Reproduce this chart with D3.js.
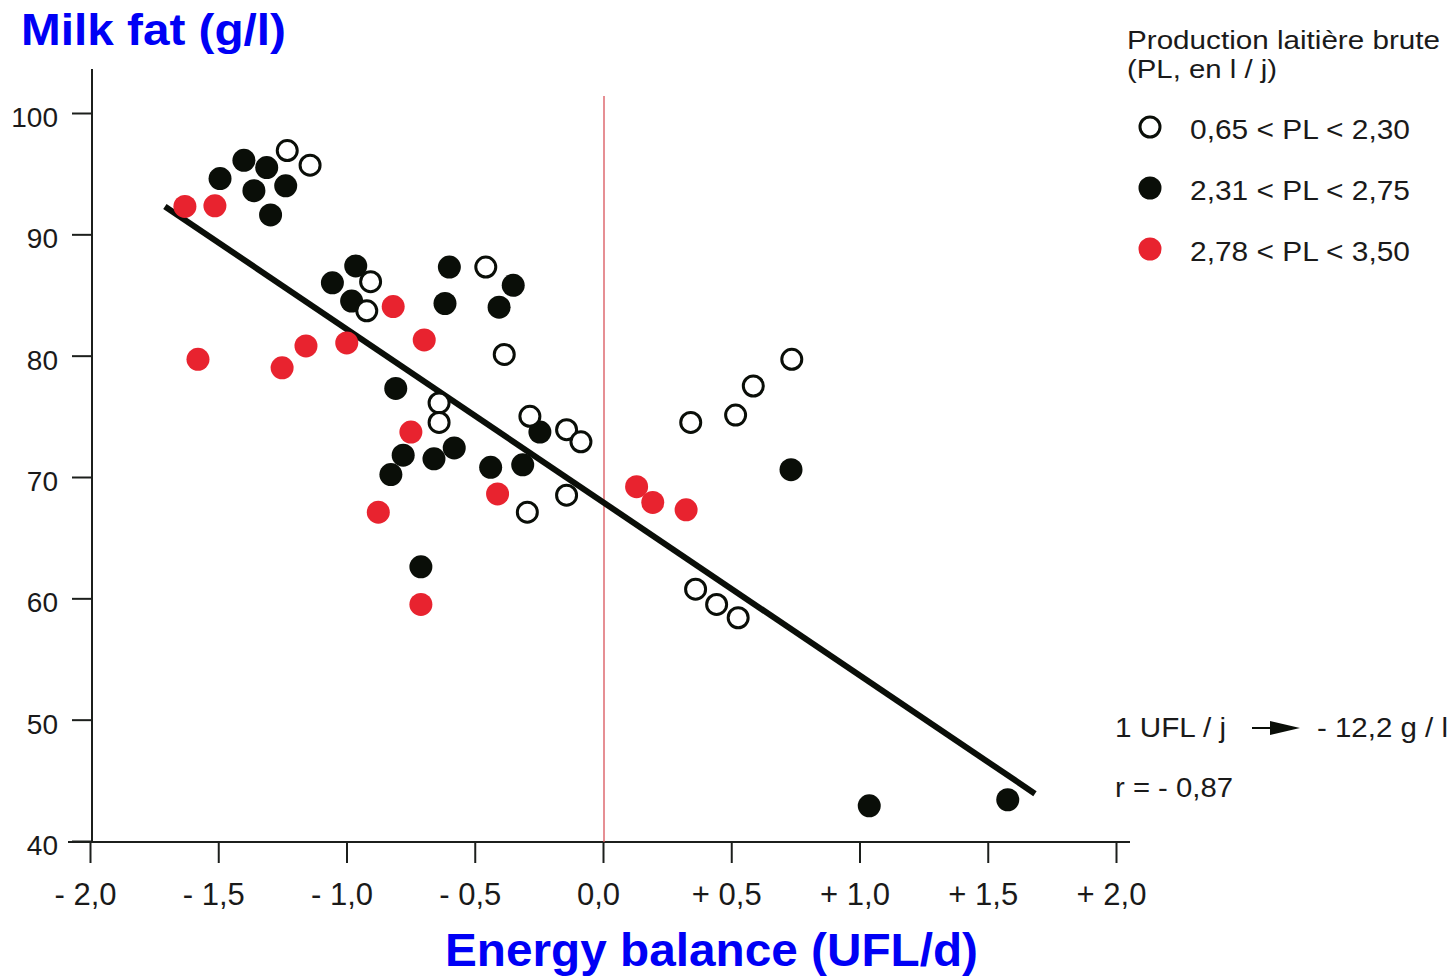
<!DOCTYPE html>
<html>
<head>
<meta charset="utf-8">
<script src="https://cdn.jsdelivr.net/npm/d3@7"></script>
<style>
  html, body { margin: 0; padding: 0; background: #fff; }
  svg { display: block; }
  text { font-family: "Liberation Sans", Arial, Helvetica, sans-serif; }
</style>
</head>
<body>
<svg id="chart" width="1456" height="976"></svg>
<script>
// Energy balance (UFL/d) vs milk fat (g/l), grouped by raw milk yield class
const lowX   = [-1.231, -1.142, -0.906, -0.921, -0.457, -0.385, -0.639, -0.639, -0.285, -0.142, -0.086, -0.142, -0.295, 0.342, 0.517, 0.586, 0.736, 0.361, 0.443, 0.527];
const lowY   = [96.9, 95.7, 86.1, 83.7, 87.3, 80.1, 76.1, 74.5, 75.0, 73.9, 72.9, 68.5, 67.1, 74.5, 75.1, 77.5, 79.7, 60.75, 59.5, 58.4];

const midX   = [-1.493, -1.400, -1.311, -1.361, -1.237, -1.296, -1.055, -0.964, -0.980, -0.599, -0.616, -0.350, -0.405, -0.808, -0.779, -0.827, -0.659, -0.580, -0.438, -0.313, -0.246, -0.710, 0.733, 1.038, 1.578];
const midY   = [94.6, 96.1, 95.5, 93.6, 94.0, 91.6, 86.0, 87.4, 84.5, 87.3, 84.3, 85.8, 84.0, 77.3, 71.8, 70.2, 71.5, 72.4, 70.8, 71.0, 73.7, 62.6, 70.6, 42.9, 43.4];

const highX  = [-1.630, -1.513, -1.579, -1.251, -1.158, -0.999, -0.818, -0.697, -0.749, -0.876, -0.411, -0.710, 0.131, 0.194, 0.324];
const highY  = [92.3, 92.35, 79.7, 79.0, 80.8, 81.05, 84.05, 81.3, 73.7, 67.1, 68.6, 59.5, 69.2, 67.9, 67.3];

// Fitted regression line (end points)
const regX = [-1.708, 1.684];
const regY = [92.3, 43.9];

const xTicks = [-2, -1.5, -1, -0.5, 0, 0.5, 1, 1.5, 2];
const xTickLabels = ["- 2,0", "- 1,5", "- 1,0", "- 0,5", "0,0", "+ 0,5", "+ 1,0", "+ 1,5", "+ 2,0"];
const yTicks = [40, 50, 60, 70, 80, 90, 100];
const yTickLabels = ["40", "50", "60", "70", "80", "90", "100"];

const legendLabels = ["0,65 < PL < 2,30", "2,31 < PL < 2,75", "2,78 < PL < 3,50"];

const RED = "#e8232f";
const BLACK = "#0a0e08";
const AXIS = "#1c1f1c";
const TEXT = "#1a1a1a";

const svg = d3.select("#chart");

const x = d3.scaleLinear().domain([-2, 2]).range([90, 1116]);
const y = d3.scaleLinear().domain([40, 100]).range([841, 113]);

// Axis lines
svg.append("line")
  .attr("x1", 92).attr("x2", 92).attr("y1", 69).attr("y2", 842)
  .attr("stroke", AXIS).attr("stroke-width", 2);
svg.append("line")
  .attr("x1", 68).attr("x2", 1130).attr("y1", 842).attr("y2", 842)
  .attr("stroke", AXIS).attr("stroke-width", 2);

// Y axis
const yAxis = d3.axisLeft(y)
  .tickValues(yTicks)
  .tickSize(20)
  .tickPadding(14)
  .tickFormat((d, i) => yTickLabels[i]);
const gy = svg.append("g").attr("transform", "translate(92,0)").call(yAxis);
gy.select(".domain").remove();
gy.selectAll(".tick line").attr("stroke", AXIS).attr("stroke-width", 2);
gy.selectAll(".tick text")
  .attr("font-size", 28).attr("fill", TEXT)
  .attr("font-family", "'Liberation Sans', Arial, sans-serif")
  .attr("dy", "0.48em");

// X axis
const xAxis = d3.axisBottom(x)
  .tickValues(xTicks)
  .tickSize(21)
  .tickPadding(20)
  .tickFormat((d, i) => xTickLabels[i]);
const gx = svg.append("g").attr("transform", "translate(0,842)").call(xAxis);
gx.select(".domain").remove();
gx.selectAll(".tick line").attr("stroke", AXIS).attr("stroke-width", 2);
gx.selectAll(".tick text")
  .attr("font-size", 31).attr("fill", TEXT)
  .attr("font-family", "'Liberation Sans', Arial, sans-serif")
  .attr("dx", -5)
  .attr("dy", "0.7em");

// Zero reference line
svg.append("line")
  .attr("x1", x(0) + 1).attr("x2", x(0) + 1)
  .attr("y1", 96).attr("y2", 842)
  .attr("stroke", "#d9535a").attr("stroke-width", 1.3);

// Regression line
svg.append("line")
  .attr("x1", x(regX[0])).attr("y1", y(regY[0]))
  .attr("x2", x(regX[1])).attr("y2", y(regY[1]))
  .attr("stroke", BLACK).attr("stroke-width", 6);

const toPts = (xs, ys) => xs.map((v, i) => ({ x: v, y: ys[i] }));

// Points
svg.append("g").selectAll("circle")
  .data(toPts(highX, highY)).join("circle")
  .attr("cx", d => x(d.x)).attr("cy", d => y(d.y)).attr("r", 11.5)
  .attr("fill", RED);

svg.append("g").selectAll("circle")
  .data(toPts(midX, midY)).join("circle")
  .attr("cx", d => x(d.x)).attr("cy", d => y(d.y)).attr("r", 11.5)
  .attr("fill", BLACK);

svg.append("g").selectAll("circle")
  .data(toPts(lowX, lowY)).join("circle")
  .attr("cx", d => x(d.x)).attr("cy", d => y(d.y)).attr("r", 10)
  .attr("fill", "#fff").attr("stroke", BLACK).attr("stroke-width", 3);

// Text helper with a fixed rendered width
function label(g, px, py, size, width, str, opts = {}) {
  const t = g.append("text")
    .attr("x", px).attr("y", py)
    .attr("font-size", size)
    .attr("fill", opts.fill || TEXT)
    .attr("textLength", width)
    .attr("lengthAdjust", "spacingAndGlyphs")
    .text(str);
  if (opts.bold) t.attr("font-weight", "bold");
  if (opts.anchor) t.attr("text-anchor", opts.anchor);
  return t;
}

// Titles
label(svg, 21, 45, 44, 265, "Milk fat (g/l)", { bold: true, fill: "#0000f5" });
label(svg, 445, 966, 46, 533, "Energy balance (UFL/d)", { bold: true, fill: "#0000f5" });

// Legend
const lg = svg.append("g");
label(lg, 1127, 49, 26, 313, "Production laitière brute");
label(lg, 1127, 78, 26, 150, "(PL, en l / j)");

const legendStyles = [
  { fill: "#fff", stroke: BLACK, sw: 3, r: 10 },
  { fill: BLACK, stroke: "none", sw: 0, r: 11.5 },
  { fill: RED, stroke: "none", sw: 0, r: 11.5 }
];
legendLabels.forEach((lab, i) => {
  const cy = 127 + i * 61;
  const s = legendStyles[i];
  lg.append("circle").attr("cx", 1150).attr("cy", cy).attr("r", s.r)
    .attr("fill", s.fill).attr("stroke", s.stroke).attr("stroke-width", s.sw);
  label(lg, 1190, cy + 12, 27, 220, lab);
});

// Slope and correlation annotation
const ann = svg.append("g");
label(ann, 1115, 737, 27, 111, "1 UFL / j");
ann.append("line").attr("x1", 1252).attr("x2", 1276).attr("y1", 728).attr("y2", 728)
  .attr("stroke", BLACK).attr("stroke-width", 2);
ann.append("path")
  .attr("d", "M1270,721 L1300,728 L1270,735 Z")
  .attr("fill", BLACK);
label(ann, 1317, 737, 27, 131, "- 12,2 g / l");
label(ann, 1115, 797, 27, 118, "r = - 0,87");
</script>
</body>
</html>
